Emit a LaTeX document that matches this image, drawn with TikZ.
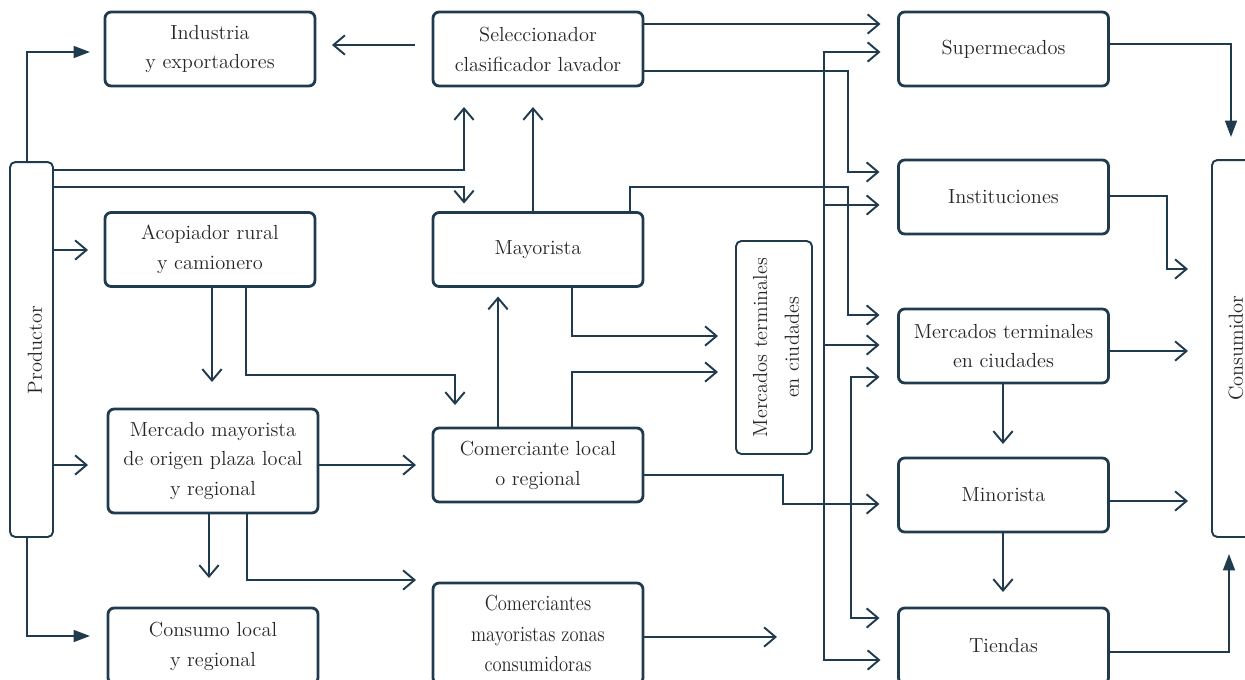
\documentclass[tikz,border=0pt]{standalone}
\usepackage{fontspec}
\usetikzlibrary{arrows.meta,calc}
\newfontfamily\narrowfont[FakeStretch=0.85]{Latin Modern Roman}
\definecolor{ink}{HTML}{1F3B4D}
\definecolor{txt}{HTML}{262626}
\tikzset{
  lbl/.style={text=txt, font=\fontsize{11.6}{17}\selectfont, align=center, inner sep=0pt},
  box/.style={lbl, draw=ink, line width=1.6pt, rounded corners=3.5pt,
    minimum width=4.2cm, minimum height=1.48cm, outer sep=0pt},
  tallbox/.style={draw=ink, line width=1.1pt, rounded corners=3pt,
    inner sep=0pt, outer sep=0pt},
  link/.style={draw=ink, line width=1.1pt},
  arr/.style={link, -{Straight Barb[length=6.5pt,width=11pt]}},
  farr/.style={link, -{Triangle[length=9.4pt,width=6.8pt]}},
}
\begin{document}
\begin{tikzpicture}[x=0.02cm,y=-0.02cm]
\clip (0,0) rectangle (1245,680);

% ---- boxes ----
\node[box] (ind) at (210,49) {Industria\\y exportadores};
\node[box] (sel) at (538,49) {Seleccionador\\clasificador lavador};
\node[box] (sup) at (1003.5,49) {Supermecados};
\node[box] (ins) at (1003.5,197) {Instituciones};
\node[box] (aco) at (210,249.5) {Acopiador rural\\y camionero};
\node[box] (may) at (538,249.5) {Mayorista};
\node[box, minimum height=2.08cm] (mmo) at (213,461) {Mercado mayorista\\de origen plaza local\\y regional};
\node[box] (com) at (538,465) {Comerciante local\\o regional};
\node[box, minimum height=1.52cm] (clo) at (213,646) {Consumo local\\y regional};
\node[box, minimum height=2.02cm, font=\narrowfont\fontsize{12.4}{17.5}\selectfont] (czm) at (538,633.5) {Comerciantes\\mayoristas zonas\\consumidoras};
\node[box] (mtr) at (1003.5,346) {Mercados terminales\\en ciudades};
\node[box] (min) at (1003.5,495) {Minorista};
\node[box, minimum height=1.52cm] (tie) at (1003.5,646) {Tiendas};

% tall boxes with vertical labels
\node[tallbox, minimum width=0.86cm, minimum height=7.5cm] (prod) at (31.5,349.5) {};
\node[lbl, rotate=90] (prodtxt) at (35,350) {Productor};
\node[tallbox, minimum width=1.52cm, minimum height=4.26cm] (mtv) at (774,347.5) {};
\node[lbl, rotate=90, font=\fontsize{11.6}{18}\selectfont] (mtvtxt) at (776,347.5) {Mercados terminales\\en ciudades};
\node[tallbox, minimum width=1cm, minimum height=7.54cm] (cns) at (1237,348.5) {};
\node[lbl, rotate=90] (cnstxt) at (1236,348) {Consumidor};

% ---- connectors from Productor ----
\draw[farr, shorten >=0.3cm] (prod.north -| 27,0) |- (ind.west |- 0,52);
\draw[arr, shorten >=0.42cm] (prod.east |- 0,170) -| (464,0 |- sel.south);
\draw[arr, shorten >=0.18cm] (prod.east |- 0,187) -| (464,0 |- may.north);
\draw[arr, shorten >=0.34cm] (prod.east |- 0,250) -- (aco.west |- 0,250);
\draw[arr, shorten >=0.4cm] (prod.east |- 0,465) -- (mmo.west |- 0,465);
\draw[farr, shorten >=0.36cm] (prod.south -| 27,0) |- (clo.west |- 0,636);

% ---- Seleccionador ----
\draw[arr, shorten <=0.36cm, shorten >=0.34cm] (sel.west |- 0,45) -- (ind.east |- 0,45);
\draw[arr, shorten >=0.36cm] (sel.east |- 0,24) -- (sup.west |- 0,24);
\draw[arr, shorten >=0.38cm] (sel.east |- 0,71) -| (848,172) -- (ins.west |- 0,172);

% ---- Mayorista ----
\draw[arr, shorten >=0.42cm] (may.north -| 533,0) -- (sel.south -| 533,0);
\draw[arr, shorten >=0.38cm] (may.north -| 630,0) |- (848,187) |- (mtr.west |- 0,315);
\draw[arr, shorten >=0.36cm] (may.south -| 572,0) |- (mtv.west |- 0,336);

% ---- Acopiador ----
\draw[arr, shorten >=0.54cm] (aco.south -| 212,0) -- (mmo.north -| 212,0);
\draw[arr, shorten >=0.46cm] (aco.south -| 246,0) |- (455,375) -- (com.north -| 455,0);

% ---- Mercado mayorista de origen ----
\draw[arr, shorten >=0.34cm] (mmo.east |- 0,465) -- (com.west |- 0,465);
\draw[arr, shorten >=0.6cm] (mmo.south -| 209,0) -- (clo.north -| 209,0);
\draw[arr, shorten >=0.34cm] (mmo.south -| 247,0) |- (czm.west |- 0,580);

% ---- Comerciante local ----
\draw[arr, shorten >=0.2cm] (com.north -| 498,0) -- (may.south -| 498,0);
\draw[arr, shorten >=0.36cm] (com.north -| 572,0) |- (mtv.west |- 0,372);
\draw[arr, shorten >=0.38cm] (com.east |- 0,475) -| (783,504) -- (min.west |- 0,504);

% ---- Comerciantes mayoristas zonas consumidoras ----
\coordinate (czmEnd) at (777,637);
\draw[arr] (czm.east |- czmEnd) -- (czmEnd);

% ---- distribution lines to the retail side ----
\coordinate (busA) at (824,52);
\coordinate (busAend) at (824,660);
\draw[arr, shorten >=0.36cm] (busAend) -- (busA) -- (sup.west |- busA);
\draw[arr, shorten >=0.36cm] (busA) -- (busAend) -- (tie.west |- busAend);
\draw[arr, shorten >=0.38cm] (busA |- 0,205) -- (ins.west |- 0,205);
\draw[arr, shorten >=0.38cm] (busA |- 0,345) -- (mtr.west |- 0,345);

\coordinate (busB) at (851,377);
\coordinate (busBend) at (851,618);
\draw[arr, shorten >=0.38cm] (busBend) -- (busB) -- (mtr.west |- busB);
\draw[arr, shorten >=0.38cm] (busB) -- (busBend) -- (tie.west |- busBend);

% ---- to Consumidor ----
\draw[farr, shorten >=0.46cm] (sup.east |- 0,44) -| (cns.north -| 1231,0);
\draw[arr, shorten >=0.48cm] (ins.east |- 0,196) -| (1167,269) -- (cns.west |- 0,269);
\draw[arr, shorten >=0.48cm] (mtr.east |- 0,351) -- (cns.west |- 0,351);
\draw[arr, shorten >=0.48cm] (min.east |- 0,501) -- (cns.west |- 0,501);
\draw[farr, shorten >=0.34cm] (tie.east |- 0,652) -| (cns.south -| 1229,0);

% ---- retail chain ----
\draw[arr, shorten >=0.28cm] (mtr.south -| 1003,0) -- (min.north -| 1003,0);
\draw[arr, shorten >=0.32cm] (min.south -| 1003,0) -- (tie.north -| 1003,0);
\end{tikzpicture}
\end{document}
